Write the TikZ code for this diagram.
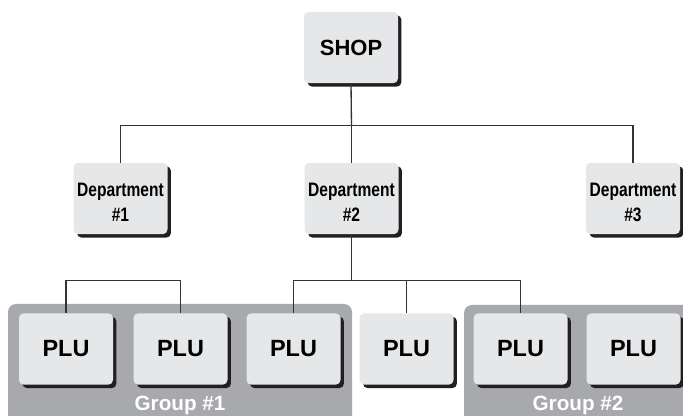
\documentclass[tikz,border=0pt]{standalone}
\usepackage{fontspec}
\setsansfont{Liberation Sans}
\newfontfamily\narrowsans[FakeStretch=0.8]{Liberation Sans}
\usetikzlibrary{shadows,positioning}
\definecolor{boxfill}{HTML}{E6E7E8}
\definecolor{groupgray}{HTML}{A7A9AC}
\definecolor{ink}{HTML}{231F20}
\definecolor{linegray}{HTML}{333333}
\tikzset{
  card/.style={fill=boxfill,rounded corners=3.5pt,minimum width=70.5pt,
               minimum height=53.5pt,inner sep=0pt,align=center,
               drop shadow={shadow xshift=2.6pt,shadow yshift=-2.6pt,
                            fill=ink,opacity=1}},
  topcard/.style={card,font=\sffamily\bfseries\fontsize{16.5}{19}\selectfont},
  deptcard/.style={card,text height=34.3pt,text depth=0pt,
                   font=\narrowsans\bfseries\fontsize{14.6}{18.75}\selectfont},
  plucard/.style={card,font=\sffamily\bfseries\fontsize{17.6}{20}\selectfont},
  groupbox/.style={fill=groupgray,rounded corners=6pt},
  grouplabel/.style={text=white,inner sep=0pt,
                     font=\sffamily\bfseries\fontsize{15.5}{18}\selectfont},
  link/.style={draw=linegray,line width=1pt}
}

\begin{document}
\begin{tikzpicture}[x=0.75pt,y=-0.75pt]
    \clip (0,0) rectangle (683,416);
    \fill[white] (0,0) rectangle (683,416);
    \fill[groupbox] (8,304) rectangle (352,440);
    \fill[groupbox] (464,305) rectangle (700,440);
    \node[topcard] (shop) at (351,47.5) {SHOP};
    \node[deptcard] (dep1) at (120.5,198.5) {Department\\\#1};
    \node[deptcard] (dep2) at (351.5,198.5) {Department\\\#2};
    \node[deptcard] (dep3) at (633,198.5) {Department\\\#3};
    \node[plucard] (plu1) at (66,349) {PLU};
    \node[plucard] (plu2) at (180.5,349) {PLU};
    \node[plucard] (plu3) at (293.5,349) {PLU};
    \node[plucard] (plu4) at (406.5,349) {PLU};
    \node[plucard] (plu5) at (520.5,349) {PLU};
    \node[plucard] (plu6) at (633.5,349) {PLU};
    \node[grouplabel] (grp1) at (180,405) {Group \#1};
    \node[grouplabel] (grp2) at (578,405) {Group \#2};
    \coordinate (bus1) at (351.5,125.5);
    \coordinate (bus2) at (351.5,280.5);
    \draw[link] (shop.south) -- (bus1);
    \draw[link] (dep1.north) |- (bus1) -| (dep3.north);
    \draw[link] (bus1) -- (dep2.north);
    \draw[link] (dep2.south) -- (bus2);
    \draw[link] (plu3.north) |- (bus2) -| (plu5.north);
    \draw[link] (plu4.north) -- (plu4.north |- bus2);
    \draw[link] (plu1.north) |- (plu2.north |- bus2) -- (plu2.north);
\end{tikzpicture}
\end{document}
